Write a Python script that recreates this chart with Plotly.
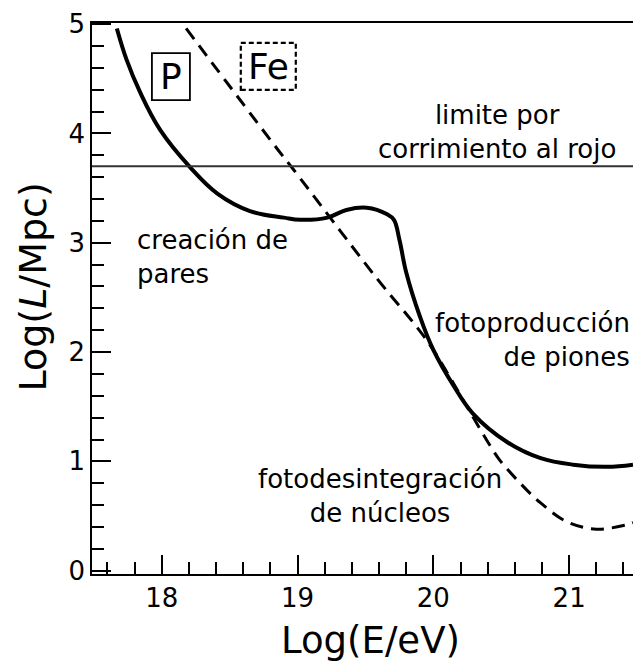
import plotly.graph_objects as go

# Attenuation length of ultra-high-energy cosmic rays vs energy
proton_log_e = [17.67, 17.74, 17.84, 17.99, 18.21, 18.41, 18.65, 18.90, 19.02, 19.22,
                19.36, 19.51, 19.66, 19.71, 19.75, 19.80, 19.90, 20.00, 20.15, 20.29,
                20.54, 20.79, 21.03, 21.28, 21.47]
proton_log_l = [4.96, 4.68, 4.38, 4.03, 3.69, 3.45, 3.29, 3.23, 3.21, 3.23,
                3.30, 3.32, 3.26, 3.21, 3.03, 2.73, 2.33, 2.02, 1.69, 1.44,
                1.18, 1.03, 0.97, 0.95, 0.97]

iron_log_e = [18.18, 18.85, 18.97, 19.58, 19.95, 20.22, 20.29, 20.42, 20.49, 20.64,
              20.79, 20.98, 21.20, 21.42, 21.47]
iron_log_l = [4.96, 3.86, 3.67, 2.68, 2.11, 1.56, 1.41, 1.14, 1.01, 0.80,
              0.62, 0.45, 0.38, 0.42, 0.44]

REDSHIFT_LIMIT = 3.7

x_ticks = [18, 19, 20, 21]
y_ticks = [0, 1, 2, 3, 4, 5]

FONT = "DejaVu Sans"

fig = go.Figure()

fig.add_trace(go.Scatter(
    x=proton_log_e, y=proton_log_l, mode="lines",
    line=dict(color="black", width=4, shape="spline", smoothing=1.1),
    hoverinfo="skip", showlegend=False,
))
fig.add_trace(go.Scatter(
    x=iron_log_e, y=iron_log_l, mode="lines",
    line=dict(color="black", width=3, dash="13px,8px", shape="spline", smoothing=1.0),
    hoverinfo="skip", showlegend=False,
))

fig.add_hline(y=REDSHIFT_LIMIT, line=dict(color="#333333", width=2))

# labelled boxes for the two species
fig.add_shape(type="rect", xref="x", yref="y", xsizemode="pixel", ysizemode="pixel",
              xanchor=18.068, yanchor=4.52, x0=-19, x1=19, y0=-23.5, y1=23.5,
              line=dict(color="black", width=1.8))
fig.add_shape(type="rect", xref="x", yref="y", xsizemode="pixel", ysizemode="pixel",
              xanchor=18.785, yanchor=4.614, x0=-27.5, x1=27.5, y0=-23.5, y1=23.5,
              line=dict(color="black", width=2.2, dash="5px,3px"))

ann_font = dict(family=FONT, size=26, color="black")
big_font = dict(family=FONT, size=36, color="black")

annotations = [
    dict(x=18.068, y=4.52, text="P", font=big_font, xanchor="center", yanchor="middle"),
    dict(x=18.785, y=4.614, text="Fe", font=big_font, xanchor="center", yanchor="middle"),
    dict(x=20.47, y=4.01, text="limite por<br>corrimiento al rojo", font=ann_font,
         align="center", xanchor="center", yanchor="middle"),
    dict(x=17.80, y=2.87, text="creación de<br>pares", font=ann_font,
         align="left", xanchor="left", yanchor="middle"),
    dict(x=21.46, y=2.11, text="fotoproducción<br>de piones", font=ann_font,
         align="right", xanchor="right", yanchor="middle"),
    dict(x=19.61, y=0.68, text="fotodesintegración<br>de núcleos", font=ann_font,
         align="center", xanchor="center", yanchor="middle"),
    dict(x=0.514, y=-0.12, xref="paper", yref="paper", text="Log(E/eV)",
         font=dict(family=FONT, size=37, color="black"), xanchor="center", yanchor="middle"),
    dict(x=-0.109, y=0.52, xref="paper", yref="paper", text="Log(<i>L</i>/Mpc)",
         font=dict(family=FONT, size=38, color="black"), textangle=-90,
         xanchor="center", yanchor="middle"),
]
for a in annotations:
    a.setdefault("xref", "x")
    a.setdefault("yref", "y")
    a["showarrow"] = False
    fig.add_annotation(**a)

axis_common = dict(
    showline=True, linecolor="black", linewidth=1.6,
    ticks="inside", ticklen=19, tickwidth=1.5, tickcolor="black",
    showgrid=False, zeroline=False,
    tickfont=dict(family=FONT, size=26, color="black"),
)

fig.update_xaxes(
    range=[17.487, 21.47], tickvals=x_ticks, mirror=True,
    minor=dict(dtick=0.2, ticks="inside", ticklen=12, tickwidth=1.5, tickcolor="black"),
    **axis_common,
)
fig.update_yaxes(
    range=[-0.03, 5.01], tickvals=y_ticks,
    minor=dict(dtick=0.2, ticks="inside", ticklen=12, tickwidth=1.5, tickcolor="black"),
    **axis_common,
)

fig.update_layout(
    width=633, height=661,
    margin=dict(l=92, r=0, t=23, b=87),
    plot_bgcolor="white", paper_bgcolor="white",
    font=dict(family=FONT, color="black"),
)

fig.write_html("out.html")
